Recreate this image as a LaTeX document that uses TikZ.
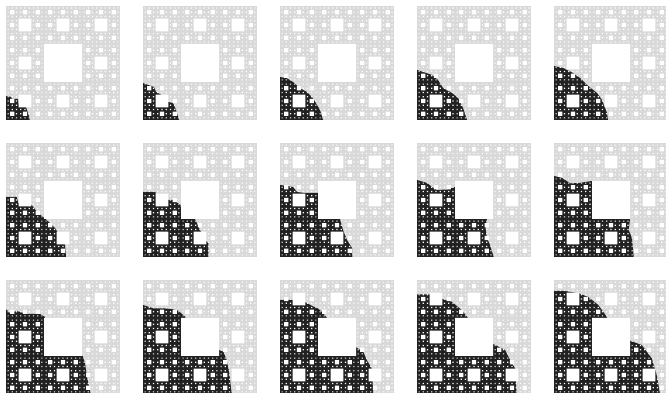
\documentclass[tikz,border=0pt]{standalone}
\definecolor{carpetlight}{gray}{0.85}
\definecolor{carpetdark}{gray}{0.13}
\gdef\holes{}
\gdef\fineholes{}
\def\carprec#1#2#3{\begingroup
 \edef\cx{\the\numexpr#1\relax}\edef\cy{\the\numexpr#2\relax}\edef\cs{\the\numexpr(#3)/3\relax}%
 \ifnum\cs>1
  \xdef\holes{\holes (\the\numexpr\cx+\cs\relax,\the\numexpr\cy+\cs\relax) rectangle ++(\cs,\cs)}%
  \carprec{\cx}{\cy}{\cs}\carprec{\cx+\cs}{\cy}{\cs}\carprec{\cx+2*\cs}{\cy}{\cs}%
  \carprec{\cx}{\cy+\cs}{\cs}\carprec{\cx+2*\cs}{\cy+\cs}{\cs}%
  \carprec{\cx}{\cy+2*\cs}{\cs}\carprec{\cx+\cs}{\cy+2*\cs}{\cs}\carprec{\cx+2*\cs}{\cy+2*\cs}{\cs}%
 \else
  \xdef\fineholes{\fineholes (\the\numexpr\cx+1\relax.07,\the\numexpr\cy+1\relax.07) rectangle ++(0.86,0.86)}%
 \fi\endgroup}
\carprec{0}{0}{81}
\newcommand\panel[3]{%
 \begin{scope}[shift={(#1pt,#2pt)}]
  \fill[carpetlight] (0,0) rectangle (114,114);
  \begin{scope}
   \clip #3 -- cycle;
   \fill[carpetdark] (0,0) rectangle (114,114);
  \end{scope}
  \fill[white,x=1.40741pt,y=1.40741pt] \holes;
  \fill[white,x=1.40741pt,y=1.40741pt] \fineholes;
 \end{scope}}
\begin{document}
\begin{tikzpicture}[x=1pt,y=1pt]
\useasboundingbox (0,0) rectangle (666,393);
\panel{6}{273}{(0,0) -- (0,24) -- (5,23) -- (6,21) -- (12,21) -- (13,13) -- (20,13) -- (23.5,2) -- (23.5,0)}
\panel{143}{273}{(0,0) -- (0,37) -- (5,35) -- (11,33) -- (13,28) -- (18,25.3) -- (25,18) -- (30,17) -- (33,10) -- (36,0)}
\panel{280}{273}{(0,0) -- (0,43) -- (7,41.7) -- (13,38) -- (20,31.7) -- (27,28) -- (33,21.7) -- (40,10) -- (43,0)}
\panel{417}{273}{(0,0) -- (0,50) -- (6.3,48) -- (15,45) -- (21,40) -- (26,32) -- (35,27) -- (41,22) -- (46,12) -- (50,0)}
\panel{554}{273}{(0,0) -- (0,54) -- (9,52) -- (19,47) -- (26,42) -- (33,35) -- (43,27) -- (48,20) -- (53,7) -- (54,0)}
\panel{6}{136}{(0,0) -- (0,60) -- (10.7,60) -- (12.3,54) -- (25.7,52) -- (32,44) -- (40.7,37) -- (49,29) -- (52,24) -- (59,12) -- (60,0)}
\panel{143}{136}{(0,0) -- (0,65) -- (12.6,65) -- (13,60) -- (25,57) -- (30,57) -- (37.7,52) -- (38,38) -- (52,38) -- (56,29) -- (62,17) -- (65.3,13.7) -- (65.3,0)}
\panel{280}{136}{(0,0) -- (0,72) -- (7,71) -- (13,70) -- (17,65) -- (25,64) -- (38,64) -- (38,38) -- (60,38) -- (63,27) -- (67,17) -- (72,9) -- (72.3,0)}
\panel{417}{136}{(0,0) -- (0,77) -- (10,74) -- (15,70) -- (20,67) -- (30,67.5) -- (38,70) -- (38,38) -- (70,38) -- (68.5,29) -- (70,19) -- (73,12) -- (76.7,0)}
\panel{554}{136}{(0,0) -- (0,81) -- (8,79) -- (16.3,73.7) -- (25,74) -- (38,76) -- (38,38) -- (76,38) -- (74.7,27) -- (78,18.7) -- (79.7,0)}
\panel{6}{-1}{(0,0) -- (0,84.7) -- (4,81) -- (10.7,83) -- (20.7,80) -- (34,80) -- (39,77) -- (38.5,38) -- (76.7,38) -- (79,30.7) -- (81,17) -- (84.7,0)}
\panel{143}{-1}{(0,0) -- (0,89) -- (10.3,85.7) -- (20.3,85.7) -- (30.3,84.7) -- (35.3,83.3) -- (42,77.3) -- (60,38) -- (76,38) -- (76,44) -- (80.3,42.3) -- (83.7,34) -- (86.3,20.7) -- (88.7,0)}
\panel{280}{-1}{(0,0) -- (0,94) -- (12.3,94) -- (25,92) -- (31.7,88.3) -- (38.3,85.3) -- (43.3,80.7) -- (46.7,76.3) -- (60,38) -- (76,38) -- (76,46.7) -- (83.3,42.3) -- (86.7,34) -- (91.7,25.7) -- (93.3,0)}
\panel{417}{-1}{(0,0) -- (0,99.7) -- (12.3,99.7) -- (25.3,95) -- (34.7,92.3) -- (44.7,84) -- (50.7,76.3) -- (60,38) -- (76,38) -- (76,50) -- (88,44) -- (93,34) -- (98,25.7) -- (99.7,0)}
\panel{554}{-1}{(0,0) -- (0,103) -- (11,103) -- (25.3,100.5) -- (34.3,97) -- (44.3,89) -- (52.7,77.3) -- (60,38) -- (76,38) -- (76,53.3) -- (87.7,49) -- (97.7,35.7) -- (102.7,19) -- (106,0)}
\end{tikzpicture}
\end{document}
